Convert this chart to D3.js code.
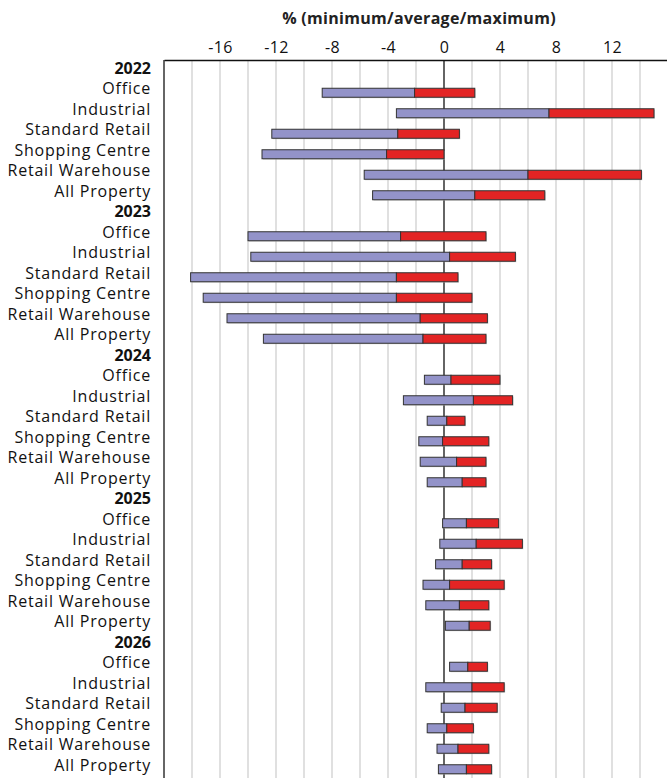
<!DOCTYPE html>
<html>
<head>
<meta charset="utf-8">
<script src="https://cdn.jsdelivr.net/npm/d3@7"></script>
<style>
  html, body { margin: 0; padding: 0; background: #fff; }
  svg { display: block; }
  text { font-family: "Open Sans", "Noto Sans", sans-serif; }
</style>
</head>
<body>
<svg id="chart" width="667" height="778"></svg>
<script>
const years = ["2022", "2023", "2024", "2025", "2026"];
const sectors = ["Office", "Industrial", "Standard Retail", "Shopping Centre", "Retail Warehouse", "All Property"];

// per year, per sector (order as sectors)
const minimum = [
  [-8.7, -3.4, -12.3, -13.0, -5.7, -5.1],
  [-14.0, -13.8, -18.1, -17.2, -15.5, -12.9],
  [-1.4, -2.9, -1.2, -1.8, -1.7, -1.2],
  [-0.1, -0.3, -0.6, -1.5, -1.3, 0.1],
  [0.4, -1.3, -0.2, -1.2, -0.5, -0.4]
];
const average = [
  [-2.1, 7.5, -3.3, -4.1, 6.0, 2.2],
  [-3.1, 0.4, -3.4, -3.4, -1.7, -1.5],
  [0.5, 2.1, 0.2, -0.1, 0.9, 1.3],
  [1.6, 2.3, 1.3, 0.4, 1.1, 1.8],
  [1.7, 2.0, 1.5, 0.2, 1.0, 1.6]
];
const maximum = [
  [2.2, 15.0, 1.1, 0.0, 14.1, 7.2],
  [3.0, 5.1, 1.0, 2.0, 3.1, 3.0],
  [4.0, 4.9, 1.5, 3.2, 3.0, 3.0],
  [3.9, 5.6, 3.4, 4.3, 3.2, 3.3],
  [3.1, 4.3, 3.8, 2.1, 3.2, 3.4]
];
const tickValues = [-16, -12, -8, -4, 0, 4, 8, 12];
const gridValues = d3.range(-18, 16, 2);
const title = "% (minimum/average/maximum)";

// build rows
const rows = [];
years.forEach((yr, yi) => {
  rows.push({ key: "h" + yr, label: yr, header: true });
  sectors.forEach((s, si) => {
    rows.push({ key: yr + "-" + s, label: s, header: false,
      min: minimum[yi][si], avg: average[yi][si], max: maximum[yi][si] });
  });
});

const svg = d3.select("#chart");
const mLeft = 164, mRight = 668, mTop = 60;
const step = 20.5;

const x = d3.scaleLinear().domain([-20, 16]).range([mLeft, mRight]);
const y = d3.scaleBand().domain(rows.map(r => r.key))
  .range([mTop, mTop + step * rows.length]).paddingInner(0).paddingOuter(0);

// gridlines
svg.append("g").selectAll("line").data(gridValues).join("line")
  .attr("x1", d => x(d)).attr("x2", d => x(d))
  .attr("y1", mTop).attr("y2", 778)
  .attr("stroke", d => d === 0 ? "none" : "#d6d6d6")
  .attr("stroke-width", 1.5);

// zero line
svg.append("line")
  .attr("x1", x(0)).attr("x2", x(0)).attr("y1", mTop).attr("y2", 778)
  .attr("stroke", "#111").attr("stroke-width", 1.3);

// left axis line
svg.append("line")
  .attr("x1", mLeft).attr("x2", mLeft).attr("y1", mTop).attr("y2", 778)
  .attr("stroke", "#666").attr("stroke-width", 2);

// top axis
const axis = d3.axisTop(x).tickValues(tickValues).tickSize(0).tickPadding(7)
  .tickFormat(d => d < 0 ? "-" + Math.abs(d) : String(d));
const ag = svg.append("g").attr("transform", `translate(0,${mTop})`).call(axis);
ag.select(".domain").attr("stroke", "#111").attr("stroke-width", 1.3);
ag.selectAll("text").attr("font-size", 16).attr("fill", "#111")
  .attr("font-family", "'Open Sans', sans-serif").attr("letter-spacing", "0.4px");

// title
svg.append("text").attr("x", 419).attr("y", 24).attr("text-anchor", "middle")
  .attr("font-size", 16).attr("font-weight", "bold").attr("fill", "#222")
  .attr("letter-spacing", "0.3px")
  .text(title);

// labels
svg.append("g").selectAll("text").data(rows).join("text")
  .attr("x", 151)
  .attr("y", d => y(d.key) + y.bandwidth() / 2 + 3.5)
  .attr("text-anchor", "end")
  .attr("font-size", 16)
  .attr("font-weight", d => d.header ? "bold" : "normal")
  .attr("letter-spacing", d => d.header ? "0px" : "0.8px")
  .attr("fill", "#111")
  .text(d => d.label);

// bars
const barH = 9;
const data = rows.filter(r => !r.header);
const bg = svg.append("g");
// shadow
bg.selectAll("rect.sh").data(data).join("rect")
  .attr("class", "sh")
  .attr("x", d => x(d.min) + 1)
  .attr("y", d => y(d.key) + y.bandwidth() / 2 + 2 - barH / 2 + 1)
  .attr("width", d => x(d.max) - x(d.min))
  .attr("height", barH)
  .attr("fill", "#bbb").attr("opacity", 0.6);
bg.selectAll("rect.lo").data(data).join("rect")
  .attr("class", "lo")
  .attr("x", d => x(d.min))
  .attr("y", d => y(d.key) + y.bandwidth() / 2 + 2 - barH / 2)
  .attr("width", d => x(d.avg) - x(d.min))
  .attr("height", barH)
  .attr("fill", "#9393c9").attr("stroke", "#333").attr("stroke-width", 1);
bg.selectAll("rect.hi").data(data).join("rect")
  .attr("class", "hi")
  .attr("x", d => x(d.avg))
  .attr("y", d => y(d.key) + y.bandwidth() / 2 + 2 - barH / 2)
  .attr("width", d => Math.max(0, x(d.max) - x(d.avg)))
  .attr("height", barH)
  .attr("fill", "#e32424").attr("stroke", "#333").attr("stroke-width", 1);
</script>
</body>
</html>
